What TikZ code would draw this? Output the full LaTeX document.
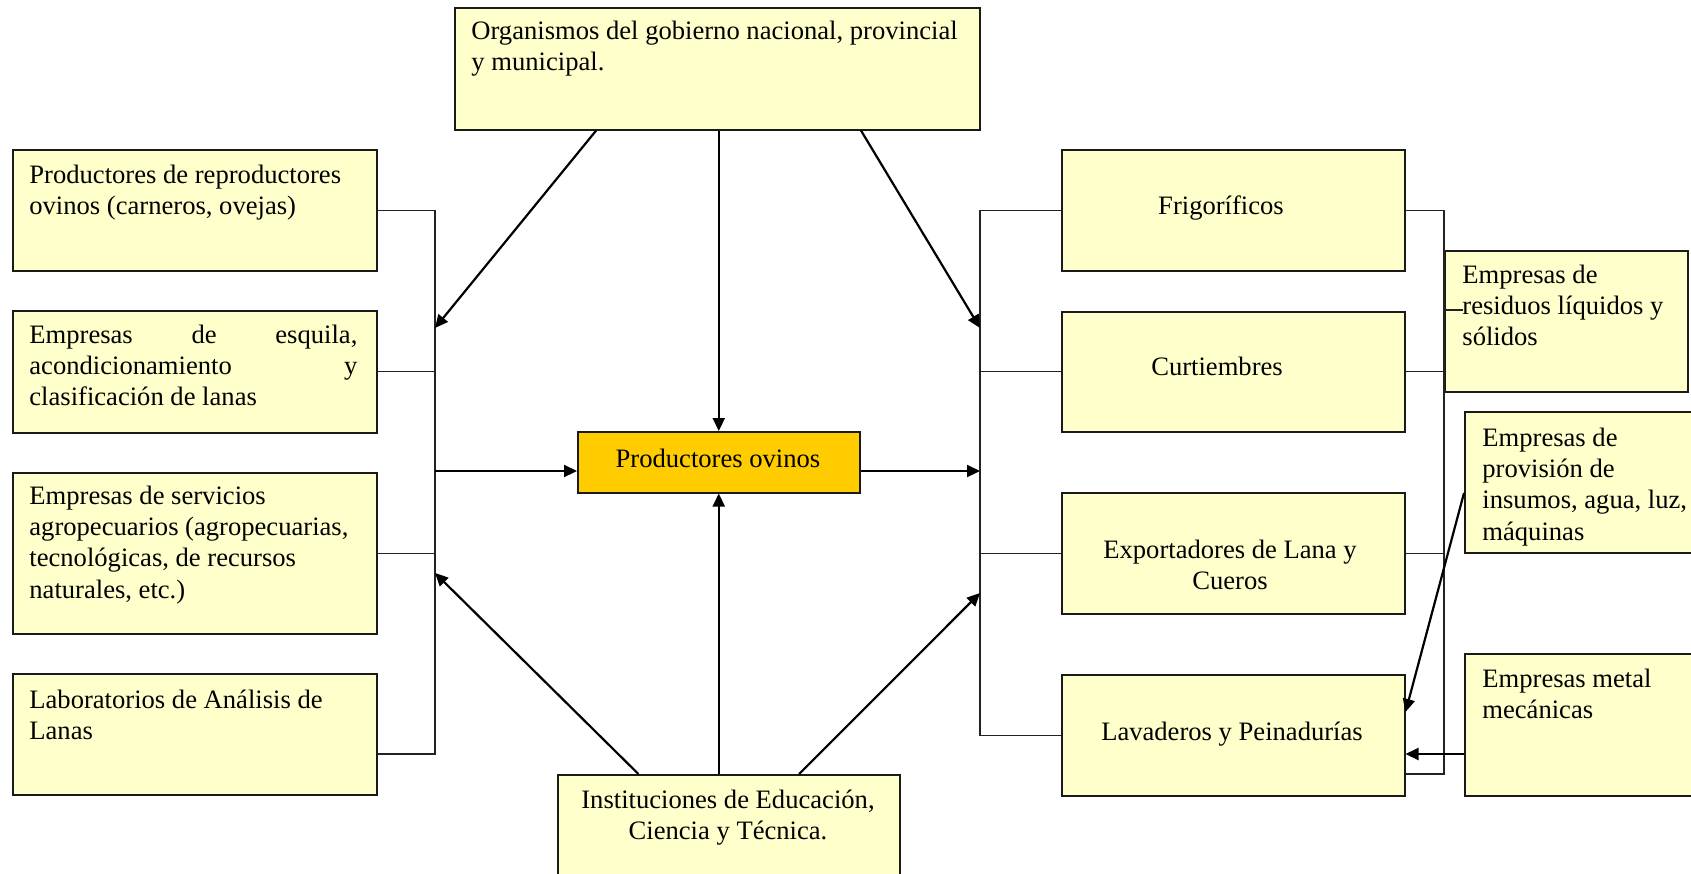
\documentclass[tikz,border=0pt]{standalone}
\usepackage{fontspec}
\setmainfont{Liberation Serif}
\usetikzlibrary{arrows.meta,calc}
\definecolor{boxfill}{HTML}{FFFFCC}
\definecolor{prodfill}{HTML}{FFCC00}
\definecolor{edgec}{HTML}{1A1A1A}
\definecolor{busc}{HTML}{222222}
\begin{document}
\begin{tikzpicture}[x=0.5pt,y=-0.5pt,
  box/.style={draw=edgec,fill=boxfill,line width=0.75pt,inner sep=0pt,anchor=north west},
  txt/.style={inner sep=0pt,font=\fontsize{13.3}{15.65}\selectfont,anchor=north west,align=flush left},
  ctxt/.style={inner sep=0pt,font=\fontsize{13.3}{15.65}\selectfont,align=flush center},
  bus/.style={draw=busc,line width=0.7pt},
  arr/.style={draw=black,line width=1.1pt,-{Triangle[length=6.5pt,width=6pt]}}]
\useasboundingbox (0,0) rectangle (1691,873);

% boxes
\node[box,minimum width=262.5pt,minimum height=61pt] (gov) at (454,7) {};
\node[box,minimum width=182pt,minimum height=60.5pt] (b1) at (12,149) {};
\node[box,minimum width=182pt,minimum height=61pt] (b2) at (12,310) {};
\node[box,minimum width=182pt,minimum height=80.5pt] (b3) at (12,472) {};
\node[box,minimum width=182pt,minimum height=60.5pt] (b4) at (12,673) {};
\node[box,fill=prodfill,minimum width=141pt,minimum height=30.5pt] (prod) at (577,431) {};
\node[box,minimum width=171.5pt,minimum height=60.5pt] (frig) at (1061,149) {};
\node[box,minimum width=171.5pt,minimum height=60pt] (curt) at (1061,311) {};
\node[box,minimum width=171.5pt,minimum height=60.5pt] (expo) at (1061,492) {};
\node[box,minimum width=171.5pt,minimum height=60.5pt] (lav) at (1061,674) {};
\node[box,minimum width=121.5pt,minimum height=70.5pt] (res) at (1444,250) {};
\node[box,minimum width=123pt,minimum height=70.5pt] (prov) at (1464,411) {};
\node[box,minimum width=123pt,minimum height=71pt] (metal) at (1464,653) {};
\node[box,minimum width=171pt,minimum height=58pt] (inst) at (557,774) {};

% left bus
\coordinate (lbt) at (435,209);
\coordinate (lbb) at (435,754);
\coordinate (lbm) at (435,471);
\draw[bus] (b1.east) -- (b1.east -| lbt) -- (lbb) -- (b4.east |- lbb);
\draw[bus] (b2.east) -- (b2.east -| lbt);
\draw[bus] (b3.east) -- (b3.east -| lbt);
\draw[arr] (lbm) -- (prod.west |- lbm);

% right inner bus
\coordinate (rbt) at (980,209);
\coordinate (rbm) at (980,471);
\draw[bus] (frig.west) -- (frig.west -| rbt) -- (lav.west -| rbt) -- (lav.west);
\draw[bus] (curt.west) -- (curt.west -| rbt);
\draw[bus] (expo.west) -- (expo.west -| rbt);
\draw[arr] (prod.east |- rbm) -- (rbm);

% right outer bus
\coordinate (obb) at (1444,774);
\coordinate (rs) at (1463,310);
\draw[bus] (frig.east) -- (frig.east -| obb) -- (obb) -- (lav.east |- obb);
\draw[bus] (curt.east) -- (curt.east -| obb);
\draw[bus] (expo.east) -- (expo.east -| obb);
\draw[bus] (res.west |- rs) -- (rs);

% government arrows
\coordinate (ga) at (435,328);
\coordinate (gb) at (980,328);
\draw[arr] ($(gov.south west)!0.27!(gov.south east)$) -- (ga);
\draw[arr] (gov.south -| prod.north) -- (prod.north);
\draw[arr] ($(gov.south west)!0.773!(gov.south east)$) -- (gb);

% institutions arrows
\coordinate (ia) at (435,573);
\coordinate (ib) at (980,593);
\draw[arr] ($(inst.north west)!0.237!(inst.north east)$) -- (ia);
\draw[arr] (inst.north -| prod.south) -- (prod.south);
\draw[arr] ($(inst.north west)!0.705!(inst.north east)$) -- (ib);

% suppliers arrows
\draw[arr] ($(prov.north west)+(0,82)$) -- ($(lav.north east)+(0,38)$);
\draw[arr] ($(metal.north west)+(0,101)$) -- ($(lav.north east)+(0,80)$);

% texts
\node[txt,text width=255pt] (govt) at (471,17) {\strut Organismos del gobierno nacional, provincial\\ y municipal.};
\node[txt,text width=172pt] (b1t) at (29,161) {\strut Productores de reproductores\\ ovinos (carneros, ovejas)};
\node[txt,text width=164pt] (b2t) at (29,321) {\strut Empresas\hfill de\hfill esquila,\\ acondicionamiento\hfill y\\ clasificación de lanas};
\node[txt,text width=172pt] (b3t) at (29,482) {\strut Empresas de servicios\\ agropecuarios (agropecuarias,\\ tecnológicas, de recursos\\ naturales, etc.)};
\node[txt,text width=172pt] (b4t) at (29,686) {\strut Laboratorios de Análisis de\\ Lanas};
\node[ctxt,anchor=base] (prodt) at (718,467) {Productores ovinos};
\node[ctxt,anchor=base] (frigt) at (1221,214) {Frigoríficos};
\node[ctxt,anchor=base] (curtt) at (1217,375) {Curtiembres};
\node[ctxt,anchor=north] (expot) at (1230,536) {\strut Exportadores de Lana y\\ Cueros};
\node[ctxt,anchor=base] (lavt) at (1232,740) {Lavaderos y Peinadurías};
\node[txt,text width=118pt] (rest) at (1462,261) {\strut Empresas de\\ residuos líquidos y\\ sólidos};
\node[txt,text width=110pt] (provt) at (1482,424) {\strut Empresas de\\ provisión de\\ insumos, agua, luz,\\ máquinas};
\node[txt,text width=110pt] (metalt) at (1482,665) {\strut Empresas metal\\ mecánicas};
\node[ctxt,anchor=north] (instt) at (728,786) {\strut Instituciones de Educación,\\ Ciencia y Técnica.};
\end{tikzpicture}
\end{document}
